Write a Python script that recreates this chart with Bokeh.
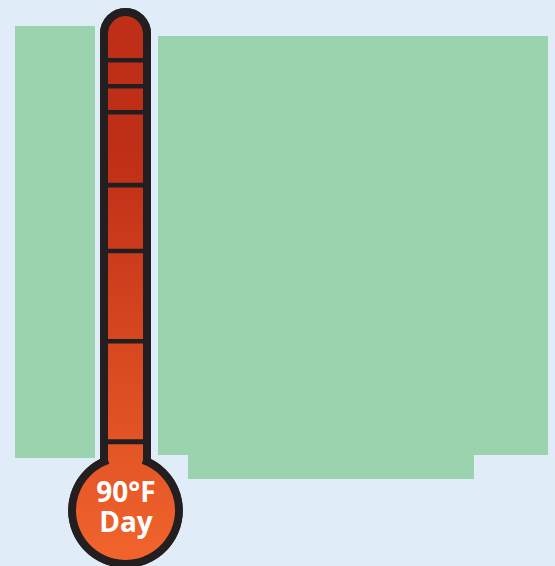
from bokeh.plotting import figure
from bokeh.embed import file_html
from bokeh.resources import INLINE
from bokeh.core.properties import value
import math

# page geometry, in pixels of the picture
WIDTH, HEIGHT = 555, 566
BG = "#e0ecf8"
GREEN = "#9bd3ae"
DARK = "#231f20"
TOP_COLOR = (191, 46, 22)
BOTTOM_COLOR = (241, 100, 44)
GRADIENT_START = 150

# green panels
panel_left = [15, 158, 188]
panel_right = [95, 548, 474]
panel_top = [26, 36, 454]
panel_bottom = [458, 455, 479]

# thermometer tick bands
tick_tops = [58, 84, 110, 182.7, 248.7, 339, 439.3]
tick_bottoms = [62.6, 88.6, 114.5, 187.4, 253.3, 343.6, 444.2]

label_lines = ["90°F", "Day"]
label_baselines = [490.5, 520.5]

tube_x = 125.5
tube_outer_half = 25.5
tube_inner_half = 17.5
tube_top_y = 33.5
bulb_y = 510.5
bulb_outer_r = 57.3
bulb_inner_r = 49.5

p = figure(width=WIDTH, height=HEIGHT, x_range=(0.5, WIDTH + 0.5), y_range=(HEIGHT + 0.5, 0.5),
           output_backend="svg", toolbar_location=None, min_border=0)
p.axis.visible = False
p.grid.visible = False
p.outline_line_color = None
p.background_fill_color = BG
p.border_fill_color = BG

p.quad(left=panel_left, right=panel_right, top=panel_top, bottom=panel_bottom,
       fill_color=GREEN, line_color=None)

# dark body
p.quad(left=[tube_x - tube_outer_half], right=[tube_x + tube_outer_half],
       top=[tube_top_y], bottom=[bulb_y], fill_color=DARK, line_color=None)
p.circle(x=[tube_x], y=[tube_top_y], radius=tube_outer_half, fill_color=DARK, line_color=None)
p.circle(x=[tube_x], y=[bulb_y], radius=bulb_outer_r, fill_color=DARK, line_color=None)

# gradient fill as overlapping strips, painted from the top down
y0, y1 = 16, 561
ys, lefts, rights, colors = [], [], [], []
for y in range(y0, y1):
    t = max(y - GRADIENT_START, 0) / (y1 - GRADIENT_START)
    c = tuple(round(a + (b - a) * t) for a, b in zip(TOP_COLOR, BOTTOM_COLOR))
    mid = y + 0.5
    hw = tube_inner_half
    if mid < tube_top_y:
        hw = math.sqrt(max(tube_inner_half ** 2 - (tube_top_y - mid) ** 2, 0))
    dy = mid - bulb_y
    if abs(dy) < bulb_inner_r + 0.6:
        hw = max(hw if mid < bulb_y else 0, math.sqrt(max((bulb_inner_r + 0.6) ** 2 - dy ** 2, 0)))
    ys.append(y)
    lefts.append(tube_x - hw)
    rights.append(tube_x + hw)
    colors.append("#%02x%02x%02x" % c)
p.quad(left=lefts, right=rights, top=ys, bottom=[y + 2 for y in ys],
       fill_color=colors, line_color=None)

# clean round edges over the stepped strips
ring_w = bulb_outer_r - bulb_inner_r
neck = math.asin(tube_inner_half / (bulb_inner_r + ring_w / 2))
p.arc(x=[tube_x], y=[bulb_y], radius=bulb_inner_r + ring_w / 2,
      start_angle=math.pi / 2 + neck, end_angle=math.pi / 2 - neck, direction="anticlock",
      line_color=DARK, line_width=ring_w)
p.arc(x=[tube_x], y=[tube_top_y], radius=(tube_outer_half + tube_inner_half) / 2,
      start_angle=0, end_angle=math.pi, direction="anticlock",
      line_color=DARK, line_width=tube_outer_half - tube_inner_half)

# tick bands
p.quad(left=[tube_x - tube_inner_half] * len(tick_tops), right=[tube_x + tube_inner_half] * len(tick_tops),
       top=tick_tops, bottom=tick_bottoms, fill_color=DARK, line_color=None)

p.text(x=[tube_x + 0.5] * 2, y=label_baselines, text=label_lines, text_align="center",
       text_baseline="alphabetic", text_color="white", text_font=value("Open Sans"),
       text_font_size="28px", text_font_style="bold")

html = file_html(p, INLINE)
css = "<style>html,body{margin:0;padding:0;background:%s;overflow:hidden}</style>" % BG
html = html.replace("</head>", css + "</head>", 1)
open("out.html", "w").write(html)
